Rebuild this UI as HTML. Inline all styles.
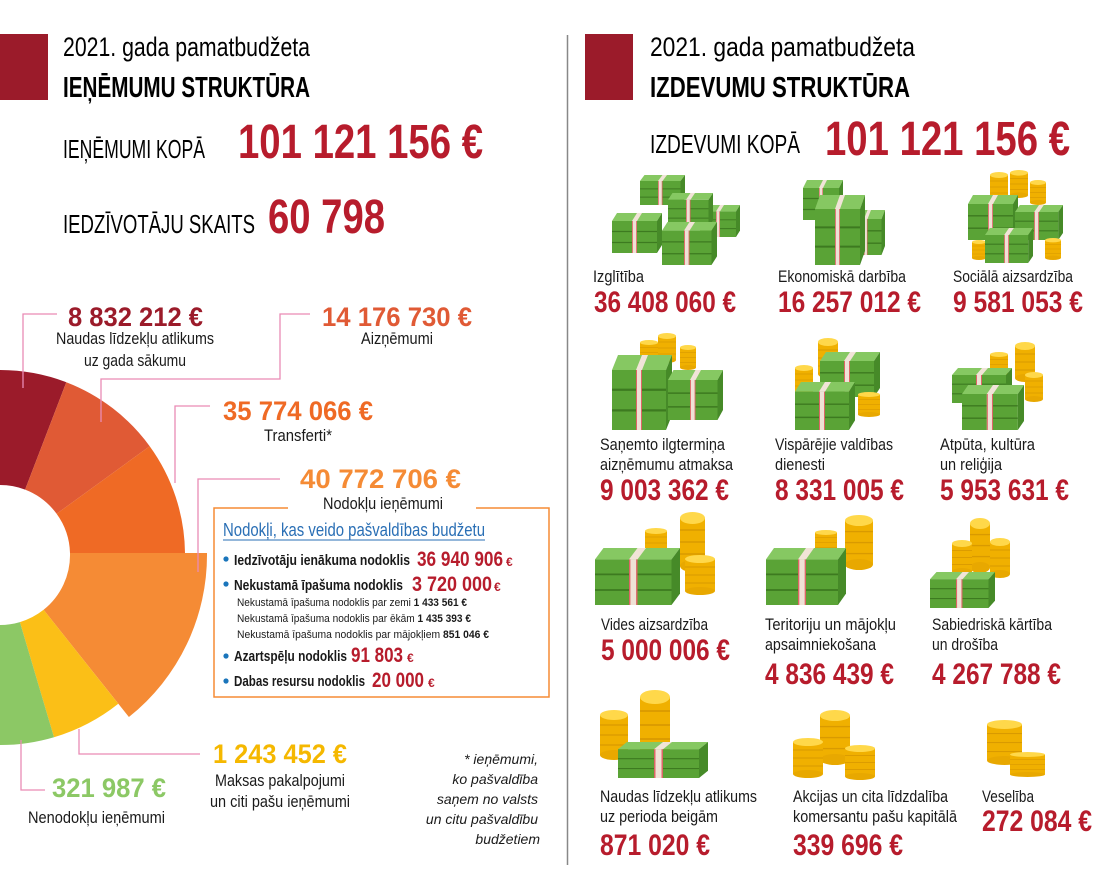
<!DOCTYPE html>
<html><head><meta charset="utf-8"><style>
html,body{margin:0;padding:0;background:#fff;}
svg{display:block;}
text{font-family:"Liberation Sans Narrow","Liberation Sans",sans-serif;}
.b{font-weight:bold;}
.r{fill:#b71c2c;font-weight:bold;}
.l{font-size:17px;fill:#1a1a1a;}
.v{font-size:30px;}
</style></head><body>
<svg width="1110" height="880" viewBox="0 0 1110 880" xmlns="http://www.w3.org/2000/svg">
<defs>
<symbol id="bill" viewBox="0 0 60 40" preserveAspectRatio="none">
<polygon points="0,8 6,0 60,0 54,8" fill="#86c862"/>
<rect x="0" y="8" width="54" height="32" fill="#5aa336"/>
<polygon points="54,8 60,0 60,32 54,40" fill="#468a28"/>
<line x1="0" y1="18.5" x2="54" y2="18.5" stroke="#3d7a20" stroke-width="1.2"/>
<line x1="0" y1="29.5" x2="54" y2="29.5" stroke="#3d7a20" stroke-width="1.2"/>
<polygon points="24,8 30,0 36,0 30,8" fill="#f1e4d8"/>
<rect x="24" y="8" width="6" height="32" fill="#efe2d6"/>
<rect x="24" y="8" width="1" height="32" fill="#d66"/>
<rect x="29" y="8" width="1" height="32" fill="#d66"/>
</symbol>
<symbol id="coin" viewBox="0 0 20 40" preserveAspectRatio="none">
<rect x="0" y="4" width="20" height="32" fill="#f0b000"/>
<ellipse cx="10" cy="36" rx="10" ry="4" fill="#e8a800"/>
<line x1="0" y1="12" x2="20" y2="12" stroke="#d99a00"/>
<line x1="0" y1="20" x2="20" y2="20" stroke="#d99a00"/>
<line x1="0" y1="28" x2="20" y2="28" stroke="#d99a00"/>
<ellipse cx="10" cy="4" rx="10" ry="4" fill="#ffd84a"/>
</symbol>
</defs>

<!-- headers -->
<rect x="0" y="34" width="48" height="66" fill="#9b1b2a"/>
<text x="63" y="56" font-size="27" textLength="247" lengthAdjust="spacingAndGlyphs">2021. gada pamatbudžeta</text>
<text x="63" y="97" font-size="29" class="b" textLength="247" lengthAdjust="spacingAndGlyphs">IEŅĒMUMU STRUKTŪRA</text>
<text x="63" y="158" font-size="26" textLength="142" lengthAdjust="spacingAndGlyphs">IEŅĒMUMI KOPĀ</text>
<text x="238" y="158" font-size="48" class="r" textLength="245" lengthAdjust="spacingAndGlyphs">101 121 156 €</text>
<text x="63" y="233" font-size="26" textLength="192" lengthAdjust="spacingAndGlyphs">IEDZĪVOTĀJU SKAITS</text>
<text x="268" y="233" font-size="48" class="r" textLength="117" lengthAdjust="spacingAndGlyphs">60 798</text>

<rect x="585" y="34" width="48" height="66" fill="#9b1b2a"/>
<text x="650" y="56" font-size="27" textLength="265" lengthAdjust="spacingAndGlyphs">2021. gada pamatbudžeta</text>
<text x="650" y="97" font-size="29" class="b" textLength="260" lengthAdjust="spacingAndGlyphs">IZDEVUMU STRUKTŪRA</text>
<text x="650" y="153" font-size="26" textLength="150" lengthAdjust="spacingAndGlyphs">IZDEVUMI KOPĀ</text>
<text x="825" y="155" font-size="48" class="r" textLength="245" lengthAdjust="spacingAndGlyphs">101 121 156 €</text>

<line x1="567.5" y1="35" x2="567.5" y2="865" stroke="#888" stroke-width="1.5"/>

<!-- pie -->
<path d="M0,370 A185,185 0 0 1 66.3,382.2 L25.1,489.6 A70,70 0 0 0 0,485 Z" fill="#9b1b2a"/>
<path d="M66.3,382.2 A185,185 0 0 1 149.7,446.2 L56.6,513.8 A70,70 0 0 0 25.1,489.6 Z" fill="#e05a35"/>
<path d="M149.7,446.2 A185,185 0 0 1 185,553 L70,553 A70,70 0 0 0 56.6,513.8 Z" fill="#ef6a25"/>
<path d="M207,553 A207,207 0 0 1 128.9,717 L43.6,609.8 A70,70 0 0 0 70,553 Z" fill="#f58b35"/>
<path d="M118.3,703.7 A190,190 0 0 1 54,737.2 L19.9,622.1 A70,70 0 0 0 43.6,609.8 Z" fill="#fbbf17"/>
<path d="M54,737.2 A190,190 0 0 1 0,745 L0,625 A70,70 0 0 0 19.9,622.1 Z" fill="#8cc865"/>

<g fill="none" stroke="#e98bb5" stroke-width="1.3">
<polyline points="23,388 23,314 57,314"/>
<polyline points="101,422 101,379 280,379 280,314 310,314"/>
<polyline points="175,483 175,406 210,406"/>
<polyline points="198,572 198,479 280,479"/>
<polyline points="79,729 79,754 200,754"/>
<polyline points="21,740 21,790 45,790"/>
</g>

<text x="68" y="326" font-size="27" class="b" fill="#9b1b2a" textLength="135" lengthAdjust="spacingAndGlyphs">8 832 212 €</text>
<text x="135" y="344" text-anchor="middle" class="l" textLength="158" lengthAdjust="spacingAndGlyphs">Naudas līdzekļu atlikums</text>
<text x="135" y="366" text-anchor="middle" class="l" textLength="102" lengthAdjust="spacingAndGlyphs">uz gada sākumu</text>
<text x="322" y="326" font-size="27" class="b" fill="#e05a35" textLength="150" lengthAdjust="spacingAndGlyphs">14 176 730 €</text>
<text x="397" y="344" text-anchor="middle" class="l" textLength="72" lengthAdjust="spacingAndGlyphs">Aizņēmumi</text>
<text x="223" y="420" font-size="27" class="b" fill="#ef6a25" textLength="150" lengthAdjust="spacingAndGlyphs">35 774 066 €</text>
<text x="298" y="441" text-anchor="middle" class="l" textLength="68" lengthAdjust="spacingAndGlyphs">Transferti*</text>
<text x="300" y="488" font-size="27" class="b" fill="#f58b35" textLength="161" lengthAdjust="spacingAndGlyphs">40 772 706 €</text>
<text x="383" y="509" text-anchor="middle" class="l" textLength="120" lengthAdjust="spacingAndGlyphs">Nodokļu ieņēmumi</text>

<polyline points="288,508 214,508 214,697 549,697 549,508 476,508" fill="none" stroke="#f58b35" stroke-width="1.5"/>
<text x="223" y="536" font-size="18" fill="#2a6fb5" textLength="262" lengthAdjust="spacingAndGlyphs">Nodokļi, kas veido pašvaldības budžetu</text>
<line x1="223" y1="540" x2="485" y2="540" stroke="#2a6fb5" stroke-width="1"/>
<g fill="#1a75bb"><circle cx="226" cy="559" r="2.6"/><circle cx="226" cy="584" r="2.6"/><circle cx="226" cy="656" r="2.6"/><circle cx="226" cy="681" r="2.6"/></g>
<g font-size="15" font-weight="bold" fill="#1a1a1a">
<text x="234" y="565" textLength="176" lengthAdjust="spacingAndGlyphs">Iedzīvotāju ienākuma nodoklis</text>
<text x="234" y="590" textLength="169" lengthAdjust="spacingAndGlyphs">Nekustamā īpašuma nodoklis</text>
<text x="234" y="661" textLength="113" lengthAdjust="spacingAndGlyphs">Azartspēļu nodoklis</text>
<text x="234" y="686" textLength="131" lengthAdjust="spacingAndGlyphs">Dabas resursu nodoklis</text>
</g>
<text x="417" y="566" font-size="21" class="r" textLength="86" lengthAdjust="spacingAndGlyphs">36 940 906</text><text x="506" y="566" font-size="12" class="r">€</text>
<text x="412" y="591" font-size="21" class="r" textLength="80" lengthAdjust="spacingAndGlyphs">3 720 000</text><text x="494" y="591" font-size="12" class="r">€</text>
<text x="351" y="662" font-size="21" class="r" textLength="52" lengthAdjust="spacingAndGlyphs">91 803</text><text x="407" y="662" font-size="12" class="r">€</text>
<text x="372" y="687" font-size="21" class="r" textLength="52" lengthAdjust="spacingAndGlyphs">20 000</text><text x="428" y="687" font-size="12" class="r">€</text>
<g font-size="11" fill="#1a1a1a">
<text x="237" y="606" textLength="230" lengthAdjust="spacingAndGlyphs">Nekustamā īpašuma nodoklis par zemi   <tspan font-weight="bold">1 433 561 €</tspan></text>
<text x="237" y="622" textLength="234" lengthAdjust="spacingAndGlyphs">Nekustamā īpašuma nodoklis par ēkām   <tspan font-weight="bold">1 435 393 €</tspan></text>
<text x="237" y="638" textLength="252" lengthAdjust="spacingAndGlyphs">Nekustamā īpašuma nodoklis par mājokļiem   <tspan font-weight="bold">851 046 €</tspan></text>
</g>

<text x="213" y="763" font-size="27" class="b" fill="#f5b800" textLength="134" lengthAdjust="spacingAndGlyphs">1 243 452 €</text>
<text x="280" y="786" text-anchor="middle" class="l" textLength="130" lengthAdjust="spacingAndGlyphs">Maksas pakalpojumi</text>
<text x="280" y="807" text-anchor="middle" class="l" textLength="140" lengthAdjust="spacingAndGlyphs">un citi pašu ieņēmumi</text>
<text x="52" y="797" font-size="27" class="b" fill="#8cc865" textLength="114" lengthAdjust="spacingAndGlyphs">321 987 €</text>
<text x="28" y="823" class="l" textLength="137" lengthAdjust="spacingAndGlyphs">Nenodokļu ieņēmumi</text>
<g font-size="14" font-style="italic" fill="#1a1a1a" text-anchor="end">
<text x="538" y="764">* ieņēmumi,</text>
<text x="538" y="784">ko pašvaldība</text>
<text x="538" y="804">saņem no valsts</text>
<text x="538" y="824">un citu pašvaldību</text>
<text x="540" y="844">budžetiem</text>
</g>

<!-- icons row 1 -->
<use href="#bill" x="640" y="175" width="45" height="30"/>
<use href="#bill" x="700" y="205" width="40" height="32"/>
<use href="#bill" x="668" y="193" width="45" height="34"/>
<use href="#bill" x="612" y="213" width="50" height="40"/>
<use href="#bill" x="662" y="222" width="55" height="43"/>
<use href="#bill" x="803" y="180" width="40" height="40"/>
<use href="#bill" x="850" y="210" width="35" height="45"/>
<use href="#bill" x="815" y="195" width="50" height="70"/>
<use href="#coin" x="990" y="172" width="18" height="30"/>
<use href="#coin" x="1010" y="170" width="18" height="28"/>
<use href="#coin" x="1030" y="180" width="16" height="25"/>
<use href="#bill" x="968" y="195" width="50" height="45"/>
<use href="#bill" x="1015" y="205" width="48" height="35"/>
<use href="#coin" x="972" y="240" width="14" height="20"/>
<use href="#coin" x="1045" y="238" width="16" height="22"/>
<use href="#bill" x="985" y="228" width="48" height="35"/>
<!-- row 2 -->
<use href="#coin" x="640" y="340" width="18" height="25"/>
<use href="#coin" x="658" y="333" width="18" height="30"/>
<use href="#coin" x="680" y="345" width="16" height="25"/>
<use href="#bill" x="612" y="355" width="60" height="75"/>
<use href="#bill" x="668" y="370" width="55" height="50"/>
<use href="#coin" x="818" y="338" width="20" height="40"/>
<use href="#coin" x="795" y="365" width="18" height="30"/>
<use href="#bill" x="820" y="352" width="60" height="45"/>
<use href="#bill" x="795" y="382" width="60" height="48"/>
<use href="#coin" x="858" y="392" width="22" height="25"/>
<use href="#coin" x="1015" y="342" width="20" height="40"/>
<use href="#coin" x="990" y="352" width="18" height="25"/>
<use href="#coin" x="1025" y="372" width="18" height="30"/>
<use href="#bill" x="952" y="368" width="60" height="35"/>
<use href="#bill" x="962" y="385" width="62" height="45"/>
<!-- row 3 -->
<use href="#coin" x="680" y="512" width="25" height="60"/>
<use href="#coin" x="645" y="528" width="22" height="30"/>
<use href="#bill" x="595" y="548" width="85" height="57"/>
<use href="#coin" x="685" y="555" width="30" height="40"/>
<use href="#coin" x="845" y="515" width="28" height="55"/>
<use href="#coin" x="815" y="530" width="22" height="25"/>
<use href="#bill" x="766" y="548" width="80" height="57"/>
<use href="#coin" x="970" y="518" width="20" height="55"/>
<use href="#coin" x="952" y="540" width="20" height="35"/>
<use href="#coin" x="990" y="538" width="20" height="40"/>
<use href="#bill" x="930" y="572" width="65" height="36"/>
<!-- row 4 -->
<use href="#coin" x="600" y="710" width="28" height="50"/>
<use href="#coin" x="640" y="690" width="30" height="70"/>
<use href="#bill" x="618" y="742" width="90" height="36"/>
<use href="#coin" x="820" y="710" width="30" height="55"/>
<use href="#coin" x="793" y="738" width="30" height="40"/>
<use href="#coin" x="845" y="745" width="30" height="35"/>
<use href="#coin" x="987" y="720" width="35" height="45"/>
<use href="#coin" x="1010" y="752" width="35" height="25"/>

<!-- right labels -->
<g class="l">
<text x="593" y="282" textLength="51" lengthAdjust="spacingAndGlyphs">Izglītība</text>
<text x="778" y="282" textLength="128" lengthAdjust="spacingAndGlyphs">Ekonomiskā darbība</text>
<text x="953" y="282" textLength="120" lengthAdjust="spacingAndGlyphs">Sociālā aizsardzība</text>
<text x="600" y="450" textLength="125" lengthAdjust="spacingAndGlyphs">Saņemto ilgtermiņa</text>
<text x="600" y="470" textLength="133" lengthAdjust="spacingAndGlyphs">aizņēmumu atmaksa</text>
<text x="775" y="450" textLength="118" lengthAdjust="spacingAndGlyphs">Vispārējie valdības</text>
<text x="775" y="470" textLength="50" lengthAdjust="spacingAndGlyphs">dienesti</text>
<text x="940" y="450" textLength="95" lengthAdjust="spacingAndGlyphs">Atpūta, kultūra</text>
<text x="940" y="470" textLength="62" lengthAdjust="spacingAndGlyphs">un reliģija</text>
<text x="601" y="630" textLength="107" lengthAdjust="spacingAndGlyphs">Vides aizsardzība</text>
<text x="765" y="630" textLength="131" lengthAdjust="spacingAndGlyphs">Teritoriju un mājokļu</text>
<text x="765" y="650" textLength="111" lengthAdjust="spacingAndGlyphs">apsaimniekošana</text>
<text x="932" y="630" textLength="120" lengthAdjust="spacingAndGlyphs">Sabiedriskā kārtība</text>
<text x="932" y="650" textLength="66" lengthAdjust="spacingAndGlyphs">un drošība</text>
<text x="600" y="802" textLength="157" lengthAdjust="spacingAndGlyphs">Naudas līdzekļu atlikums</text>
<text x="600" y="822" textLength="118" lengthAdjust="spacingAndGlyphs">uz perioda beigām</text>
<text x="793" y="802" textLength="155" lengthAdjust="spacingAndGlyphs">Akcijas un cita līdzdalība</text>
<text x="793" y="822" textLength="164" lengthAdjust="spacingAndGlyphs">komersantu pašu kapitālā</text>
<text x="982" y="802" textLength="52" lengthAdjust="spacingAndGlyphs">Veselība</text>
</g>
<g class="r v">
<text x="594" y="312" textLength="142" lengthAdjust="spacingAndGlyphs">36 408 060 €</text>
<text x="778" y="312" textLength="143" lengthAdjust="spacingAndGlyphs">16 257 012 €</text>
<text x="953" y="312" textLength="130" lengthAdjust="spacingAndGlyphs">9 581 053 €</text>
<text x="600" y="500" textLength="129" lengthAdjust="spacingAndGlyphs">9 003 362 €</text>
<text x="775" y="500" textLength="129" lengthAdjust="spacingAndGlyphs">8 331 005 €</text>
<text x="940" y="500" textLength="129" lengthAdjust="spacingAndGlyphs">5 953 631 €</text>
<text x="601" y="660" textLength="129" lengthAdjust="spacingAndGlyphs">5 000 006 €</text>
<text x="765" y="684" textLength="129" lengthAdjust="spacingAndGlyphs">4 836 439 €</text>
<text x="932" y="684" textLength="129" lengthAdjust="spacingAndGlyphs">4 267 788 €</text>
<text x="600" y="855" textLength="110" lengthAdjust="spacingAndGlyphs">871 020 €</text>
<text x="793" y="855" textLength="110" lengthAdjust="spacingAndGlyphs">339 696 €</text>
<text x="982" y="831" textLength="110" lengthAdjust="spacingAndGlyphs">272 084 €</text>
</g>
</svg>
</body></html>
